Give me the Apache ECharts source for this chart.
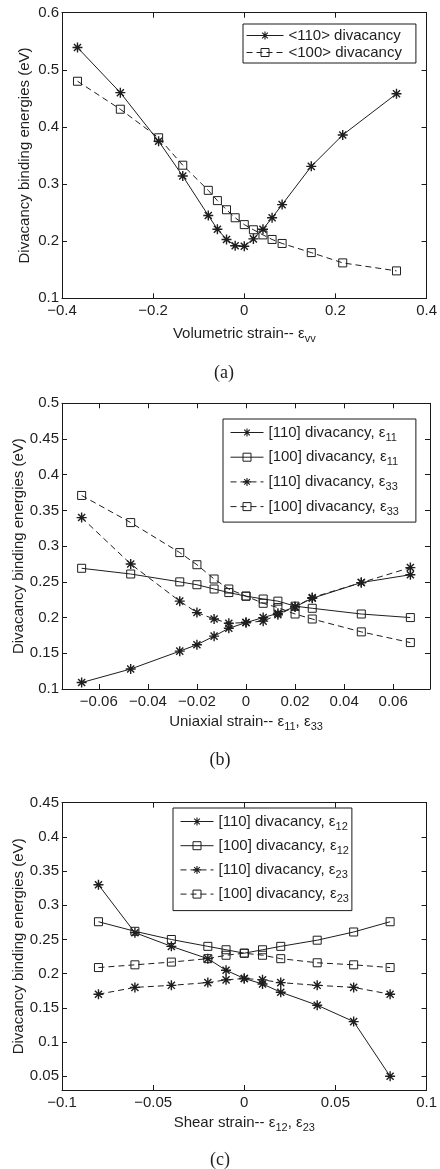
<!DOCTYPE html>
<html>
<head>
<meta charset="utf-8">
<script src="https://cdn.jsdelivr.net/npm/echarts@6/dist/echarts.min.js"></script>
<style>
  html, body { margin: 0; padding: 0; background: #fff; }
  #chart { width: 440px; height: 1169px; }
</style>
</head>
<body>
<div id="chart"></div>
<script>
// ---- (a) volumetric strain ----
const volStrain = [-0.366, -0.272, -0.188, -0.135, -0.079, -0.059, -0.039, -0.020, 0, 0.020, 0.041, 0.061, 0.083, 0.147, 0.216, 0.334];
const vol110 = [0.539, 0.460, 0.375, 0.314, 0.245, 0.221, 0.203, 0.192, 0.191, 0.204, 0.221, 0.241, 0.264, 0.331, 0.386, 0.458];
const vol100 = [0.480, 0.431, 0.381, 0.333, 0.289, 0.271, 0.255, 0.241, 0.229, 0.220, 0.211, 0.203, 0.196, 0.180, 0.162, 0.148];
const volTicksX = [-0.4, -0.2, 0, 0.2, 0.4];
const volTicksY = [0.1, 0.2, 0.3, 0.4, 0.5, 0.6];

// ---- (b) uniaxial strain ----
const uniStrain = [-0.067, -0.047, -0.027, -0.020, -0.013, -0.007, 0, 0.007, 0.013, 0.020, 0.027, 0.047, 0.067];
const uni110e11 = [0.109, 0.128, 0.153, 0.162, 0.174, 0.185, 0.193, 0.200, 0.206, 0.215, 0.227, 0.249, 0.260];
const uni100e11 = [0.269, 0.261, 0.250, 0.246, 0.240, 0.235, 0.230, 0.226, 0.223, 0.216, 0.213, 0.205, 0.200];
const uni110e33 = [0.340, 0.275, 0.223, 0.207, 0.198, 0.192, 0.193, 0.195, 0.204, 0.215, 0.228, 0.249, 0.270];
const uni100e33 = [0.371, 0.333, 0.291, 0.274, 0.254, 0.240, 0.230, 0.220, 0.214, 0.205, 0.198, 0.180, 0.165];
const uniTicksX = [-0.06, -0.04, -0.02, 0, 0.02, 0.04, 0.06];
const uniTicksY = [0.1, 0.15, 0.2, 0.25, 0.3, 0.35, 0.4, 0.45, 0.5];

// ---- (c) shear strain ----
const shearStrain = [-0.08, -0.06, -0.04, -0.02, -0.01, 0, 0.01, 0.02, 0.04, 0.06, 0.08];
const sh110e12 = [0.330, 0.260, 0.240, 0.222, 0.205, 0.193, 0.185, 0.173, 0.154, 0.130, 0.050];
const sh100e12 = [0.276, 0.262, 0.250, 0.240, 0.235, 0.230, 0.235, 0.240, 0.249, 0.261, 0.276];
const sh110e23 = [0.170, 0.180, 0.183, 0.187, 0.191, 0.193, 0.191, 0.187, 0.183, 0.180, 0.170];
const sh100e23 = [0.209, 0.213, 0.217, 0.222, 0.227, 0.230, 0.227, 0.222, 0.216, 0.213, 0.209];
const shearTicksX = [-0.1, -0.05, 0, 0.05, 0.1];
const shearTicksY = [0.05, 0.1, 0.15, 0.2, 0.25, 0.3, 0.35, 0.4, 0.45];

const INK = '#1e1e1e';
const AXIS = '#1a1a1a';
const FONT = '"Liberation Sans", Arial, Helvetica, sans-serif';

// asterisk marker: four thin bars (0, 45, 90, 135 degrees) in a 20x20 box
function asteriskPath(halfThick) {
  let d = '';
  [0, 45, 90, 135].forEach(function (deg) {
    const r = deg * Math.PI / 180, c = Math.cos(r), s = Math.sin(r);
    const pts = [[-10, -halfThick], [10, -halfThick], [10, halfThick], [-10, halfThick]].map(function (p) {
      return (10 + p[0] * c - p[1] * s).toFixed(3) + ',' + (10 + p[0] * s + p[1] * c).toFixed(3);
    });
    d += 'M' + pts.join('L') + 'Z';
  });
  return 'path://' + d;
}
const STAR = asteriskPath(1.4);

function tickFmt(v) {
  if (Math.abs(v) < 1e-12) return '0';
  return String(+v.toFixed(4)).replace('-', '\u2212');
}

const rich = {
  t: { fontSize: 15, fontFamily: FONT, color: INK, lineHeight: 18 },
  s: { fontSize: 11, fontFamily: FONT, color: INK, lineHeight: 12, padding: [10, 0, 0, 0] }
};

// legend entries: label text + subscript
const names = {};
function entry(label, sub) {
  const n = label + (sub || '');
  names[n] = '{t|' + label + '}' + (sub ? '{s|' + sub + '}' : '');
  return n;
}

function lineSeries(name, xs, ys, marker, dashed, gi) {
  const isStar = marker === 'star';
  return {
    type: 'line',
    name: name,
    xAxisIndex: gi * 2,
    yAxisIndex: gi * 2,
    data: xs.map(function (x, i) { return [x, ys[i]]; }),
    symbol: isStar ? STAR : 'rect',
    symbolSize: isStar ? 10 : 8,
    symbolKeepAspect: true,
    itemStyle: isStar
      ? { color: INK, borderColor: 'rgba(0,0,0,0)', borderWidth: 0 }
      : { color: 'rgba(255,255,255,0)', borderColor: INK, borderWidth: 1 },
    lineStyle: { color: INK, width: 1, type: dashed ? [6, 4] : 'solid' },
    emphasis: { disabled: true },
    animation: false,
    clip: false,
    z: 3
  };
}

function panelAxes(gi, xr, xt, yr, yt, xName, yGap, xGap) {
  const axLine = { show: true, onZero: false, lineStyle: { color: AXIS, width: 1 } };
  const lbl = { fontSize: 15, fontFamily: FONT, color: INK, formatter: tickFmt, showMinLabel: true, showMaxLabel: true };
  const xs = [
    {
      type: 'value', gridIndex: gi, position: 'bottom', min: xr[0], max: xr[1],
      axisLine: axLine, splitLine: { show: false },
      axisTick: { show: true, inside: true, length: 5, customValues: xt, lineStyle: { color: AXIS } },
      axisLabel: Object.assign({ margin: 5, customValues: xt }, lbl),
      name: xName, nameLocation: 'middle', nameGap: xGap, nameMoveOverlap: false,
      nameTextStyle: { rich: rich }
    },
    {
      type: 'value', gridIndex: gi, position: 'top', min: xr[0], max: xr[1],
      axisLine: axLine, splitLine: { show: false },
      axisTick: { show: true, inside: true, length: 5, customValues: xt, lineStyle: { color: AXIS } },
      axisLabel: { show: false }
    }
  ];
  const ys = [
    {
      type: 'value', gridIndex: gi, position: 'left', min: yr[0], max: yr[1],
      axisLine: axLine, splitLine: { show: false },
      axisTick: { show: true, inside: true, length: 5, customValues: yt, lineStyle: { color: AXIS } },
      axisLabel: Object.assign({ margin: 3, customValues: yt }, lbl),
      name: 'Divacancy binding energies (eV)', nameLocation: 'middle', nameGap: yGap, nameMoveOverlap: false,
      nameTextStyle: { fontSize: 15, fontFamily: FONT, color: INK, lineHeight: 18 }
    },
    {
      type: 'value', gridIndex: gi, position: 'right', min: yr[0], max: yr[1],
      axisLine: axLine, splitLine: { show: false },
      axisTick: { show: true, inside: true, length: 5, customValues: yt, lineStyle: { color: AXIS } },
      axisLabel: { show: false }
    }
  ];
  return { xs: xs, ys: ys };
}

const nA1 = entry('<110> divacancy'), nA2 = entry('<100> divacancy');
const nB1 = entry('[110] divacancy, \u03b5', '11'), nB2 = entry('[100] divacancy, \u03b5', '11');
const nB3 = entry('[110] divacancy, \u03b5', '33'), nB4 = entry('[100] divacancy, \u03b5', '33');
const nC1 = entry('[110] divacancy, \u03b5', '12'), nC2 = entry('[100] divacancy, \u03b5', '12');
const nC3 = entry('[110] divacancy, \u03b5', '23'), nC4 = entry('[100] divacancy, \u03b5', '23');

const pa = panelAxes(0, [-0.4, 0.4], volTicksX, [0.1, 0.6], volTicksY,
  '{t|Volumetric strain-- \u03b5}{s|vv}', 28, 27);
const pb = panelAxes(1, [-0.075, 0.075], uniTicksX, [0.1, 0.5], uniTicksY,
  '{t|Uniaxial strain-- \u03b5}{s|11}{t|, \u03b5}{s|33}', 34.5, 24);
const pc = panelAxes(2, [-0.1, 0.1], shearTicksX, [0.03, 0.45], shearTicksY,
  '{t|Shear strain-- \u03b5}{s|12}{t|, \u03b5}{s|23}', 34.5, 24);

function legendBox(data, left, top, gap, padding, itemWidth) {
  return {
    data: data, left: left, top: top, orient: 'vertical',
    itemWidth: itemWidth, itemHeight: 10, itemGap: gap, padding: padding,
    borderColor: AXIS, borderWidth: 1, backgroundColor: '#fff',
    selectedMode: false,
    lineStyle: { width: 1 },
    itemStyle: { borderWidth: 1 },
    textStyle: { color: INK, fontSize: 15, fontFamily: FONT, rich: rich },
    formatter: function (n) { return names[n] || n; }
  };
}

const option = {
  backgroundColor: '#fff',
  animation: false,
  grid: [
    { left: 62, right: 10, top: 12.7, height: 285.6 },
    { left: 62, right: 10, top: 403.3, height: 285.7 },
    { left: 62, right: 10, top: 802.7, height: 287.3 }
  ],
  xAxis: pa.xs.concat(pb.xs, pc.xs),
  yAxis: pa.ys.concat(pb.ys, pc.ys),
  legend: [
    legendBox([nA1, nA2], 243, 24, 2, [4, 14, 3, 3], 37),
    legendBox([nB1, nB2, nB3, nB4], 223, 419, 3.7, [3, 17, 5, 7], 33),
    legendBox([nC1, nC2, nC3, nC4], 173, 808, 3.2, [3, 3, 6, 7], 33)
  ],
  graphic: [
    { type: 'text', x: 224, y: 373, style: { text: '(a)', font: '18px "Liberation Serif", "DejaVu Serif", serif', fill: INK, align: 'center', verticalAlign: 'middle' } },
    { type: 'text', x: 220, y: 760, style: { text: '(b)', font: '18px "Liberation Serif", "DejaVu Serif", serif', fill: INK, align: 'center', verticalAlign: 'middle' } },
    { type: 'text', x: 220, y: 1160, style: { text: '(c)', font: '18px "Liberation Serif", "DejaVu Serif", serif', fill: INK, align: 'center', verticalAlign: 'middle' } }
  ],
  series: [
    lineSeries(nA1, volStrain, vol110, 'star', false, 0),
    lineSeries(nA2, volStrain, vol100, 'square', true, 0),
    lineSeries(nB1, uniStrain, uni110e11, 'star', false, 1),
    lineSeries(nB2, uniStrain, uni100e11, 'square', false, 1),
    lineSeries(nB3, uniStrain, uni110e33, 'star', true, 1),
    lineSeries(nB4, uniStrain, uni100e33, 'square', true, 1),
    lineSeries(nC1, shearStrain, sh110e12, 'star', false, 2),
    lineSeries(nC2, shearStrain, sh100e12, 'square', false, 2),
    lineSeries(nC3, shearStrain, sh110e23, 'star', true, 2),
    lineSeries(nC4, shearStrain, sh100e23, 'square', true, 2)
  ]
};

const chart = echarts.init(document.getElementById('chart'), null, { renderer: 'canvas' });
chart.setOption(option);
</script>
</body>
</html>
